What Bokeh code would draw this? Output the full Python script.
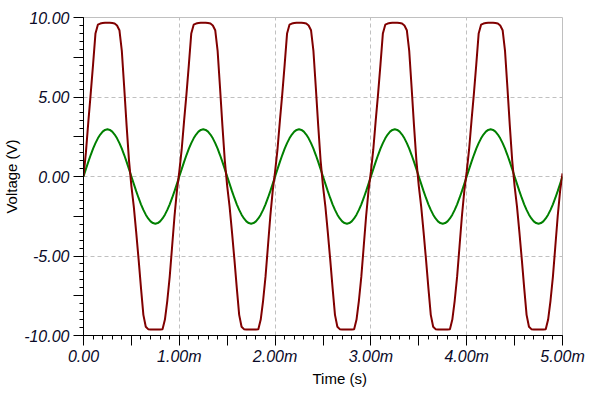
from bokeh.plotting import figure
from bokeh.models import FixedTicker, Range1d, CustomJSTickFormatter, Title
from bokeh.embed import file_html
from bokeh.resources import INLINE

# time samples in ms (0 .. 5 ms, step 0.025 ms)
time_ms = [round(i * 0.025, 3) for i in range(201)]

# amplified / clipped output (V)
output_v = [
    0.0, 1.5, 3.4, 5.2, 7.05, 9.0, 9.55, 9.62, 9.65, 9.67, 9.67, 9.67, 9.65, 9.62, 9.5, 9.2, 7.9, 5.6, 3.2, 1.0,
    -0.6, -1.9, -3.5, -5.2, -7.0, -8.7, -9.45, -9.6, -9.62, -9.63, -9.63, -9.63, -9.62, -9.6, -9.0, -7.8, -6.3, -4.4, -2.5, -0.9,
    0.3, 1.7, 3.5, 5.2, 7.05, 9.0, 9.55, 9.62, 9.65, 9.67, 9.67, 9.67, 9.65, 9.62, 9.5, 9.2, 7.9, 5.6, 3.2, 1.0,
    -0.6, -1.9, -3.5, -5.2, -7.0, -8.7, -9.45, -9.6, -9.62, -9.63, -9.63, -9.63, -9.62, -9.6, -9.0, -7.8, -6.3, -4.4, -2.5, -0.9,
    0.3, 1.7, 3.5, 5.2, 7.05, 9.0, 9.55, 9.62, 9.65, 9.67, 9.67, 9.67, 9.65, 9.62, 9.5, 9.2, 7.9, 5.6, 3.2, 1.0,
    -0.6, -1.9, -3.5, -5.2, -7.0, -8.7, -9.45, -9.6, -9.62, -9.63, -9.63, -9.63, -9.62, -9.6, -9.0, -7.8, -6.3, -4.4, -2.5, -0.9,
    0.3, 1.7, 3.5, 5.2, 7.05, 9.0, 9.55, 9.62, 9.65, 9.67, 9.67, 9.67, 9.65, 9.62, 9.5, 9.2, 7.9, 5.6, 3.2, 1.0,
    -0.6, -1.9, -3.5, -5.2, -7.0, -8.7, -9.45, -9.6, -9.62, -9.63, -9.63, -9.63, -9.62, -9.6, -9.0, -7.8, -6.3, -4.4, -2.5, -0.9,
    0.3, 1.7, 3.5, 5.2, 7.05, 9.0, 9.55, 9.62, 9.65, 9.67, 9.67, 9.67, 9.65, 9.62, 9.5, 9.2, 7.9, 5.6, 3.2, 1.0,
    -0.6, -1.9, -3.5, -5.2, -7.0, -8.7, -9.45, -9.6, -9.62, -9.63, -9.63, -9.63, -9.62, -9.6, -9.0, -7.8, -6.3, -4.4, -2.5, -0.9,
    0.2,
]

# input sine (V)
input_v = [
    0.0, 0.46, 0.92, 1.35, 1.75, 2.1, 2.4, 2.64, 2.82, 2.93, 2.97, 2.93, 2.82, 2.64, 2.4, 2.1, 1.75, 1.35, 0.92, 0.46,
    0.0, -0.46, -0.92, -1.35, -1.75, -2.1, -2.4, -2.64, -2.82, -2.93, -2.97, -2.93, -2.82, -2.64, -2.4, -2.1, -1.75, -1.35, -0.92, -0.46,
    0.0, 0.46, 0.92, 1.35, 1.75, 2.1, 2.4, 2.64, 2.82, 2.93, 2.97, 2.93, 2.82, 2.64, 2.4, 2.1, 1.75, 1.35, 0.92, 0.46,
    0.0, -0.46, -0.92, -1.35, -1.75, -2.1, -2.4, -2.64, -2.82, -2.93, -2.97, -2.93, -2.82, -2.64, -2.4, -2.1, -1.75, -1.35, -0.92, -0.46,
    0.0, 0.46, 0.92, 1.35, 1.75, 2.1, 2.4, 2.64, 2.82, 2.93, 2.97, 2.93, 2.82, 2.64, 2.4, 2.1, 1.75, 1.35, 0.92, 0.46,
    0.0, -0.46, -0.92, -1.35, -1.75, -2.1, -2.4, -2.64, -2.82, -2.93, -2.97, -2.93, -2.82, -2.64, -2.4, -2.1, -1.75, -1.35, -0.92, -0.46,
    0.0, 0.46, 0.92, 1.35, 1.75, 2.1, 2.4, 2.64, 2.82, 2.93, 2.97, 2.93, 2.82, 2.64, 2.4, 2.1, 1.75, 1.35, 0.92, 0.46,
    0.0, -0.46, -0.92, -1.35, -1.75, -2.1, -2.4, -2.64, -2.82, -2.93, -2.97, -2.93, -2.82, -2.64, -2.4, -2.1, -1.75, -1.35, -0.92, -0.46,
    0.0, 0.46, 0.92, 1.35, 1.75, 2.1, 2.4, 2.64, 2.82, 2.93, 2.97, 2.93, 2.82, 2.64, 2.4, 2.1, 1.75, 1.35, 0.92, 0.46,
    0.0, -0.46, -0.92, -1.35, -1.75, -2.1, -2.4, -2.64, -2.82, -2.93, -2.97, -2.93, -2.82, -2.64, -2.4, -2.1, -1.75, -1.35, -0.92, -0.46,
    0.0,
]

x_major = [0, 0.5, 1, 1.5, 2, 2.5, 3, 3.5, 4, 4.5, 5]
x_minor = [round(i * 0.1, 1) for i in range(51)]
y_major = [-10, -7.5, -5, -2.5, 0, 2.5, 5, 7.5, 10]
y_minor = [round(-10 + i * 0.5, 1) for i in range(41)]

p = figure(width=595, height=395, x_range=Range1d(0, 5), y_range=Range1d(-10, 10),
           output_backend="svg", toolbar_location=None, title=None,
           min_border_left=81, min_border_right=33, min_border_top=17, min_border_bottom=60)
p.background_fill_color = "white"
p.border_fill_color = "white"
p.outline_line_color = "#c0c0c0"
p.outline_line_width = 1

p.line(time_ms, input_v, line_color="#008000", line_width=2)
p.line(time_ms, output_v, line_color="#800000", line_width=2)

p.xaxis.ticker = FixedTicker(ticks=x_major, minor_ticks=x_minor)
p.yaxis.ticker = FixedTicker(ticks=y_major, minor_ticks=y_minor)
p.xaxis.formatter = CustomJSTickFormatter(code="""
if (Math.abs(tick - Math.round(tick)) > 1e-9) return "";
if (Math.abs(tick) < 1e-9) return "0.00";
return tick.toFixed(2) + "m";
""")
p.yaxis.formatter = CustomJSTickFormatter(code="""
if (Math.abs(tick / 5 - Math.round(tick / 5)) > 1e-9) return "";
return tick.toFixed(2);
""")

p.xgrid.ticker = FixedTicker(ticks=[1, 2, 3, 4])
p.ygrid.ticker = FixedTicker(ticks=[-5, 0, 5])
for g in (p.xgrid, p.ygrid):
    g.grid_line_color = "#c0c0c0"
    g.grid_line_dash = "4 3"
    g.grid_line_width = 1

for ax in (p.xaxis, p.yaxis):
    ax.axis_line_color = "black"
    ax.axis_line_width = 1
    ax.major_tick_line_color = "black"
    ax.minor_tick_line_color = "black"
    ax.major_tick_in = 0
    ax.major_tick_out = 10
    ax.minor_tick_in = 0
    ax.minor_tick_out = 4
    ax.major_label_text_font = "Liberation Sans"
    ax.major_label_text_font_style = "italic"
    ax.major_label_text_font_size = "16px"
    ax.major_label_text_color = "#0a0a28"
    ax.axis_label_text_font = "Liberation Sans"
    ax.axis_label_text_font_style = "normal"
    ax.axis_label_text_font_size = "15px"
    ax.axis_label_text_color = "black"

p.yaxis.axis_label = "Voltage (V)"
p.xaxis.major_label_standoff = 2
p.yaxis.major_label_standoff = 4
p.yaxis.axis_label_standoff = 1

xtitle = Title(text="Time (s)", align="left", offset=229, standoff=0,
               text_font="Liberation Sans", text_font_style="normal",
               text_font_size="15px", text_color="black")
p.add_layout(xtitle, "below")

open("out.html", "w").write(file_html(p, INLINE))
